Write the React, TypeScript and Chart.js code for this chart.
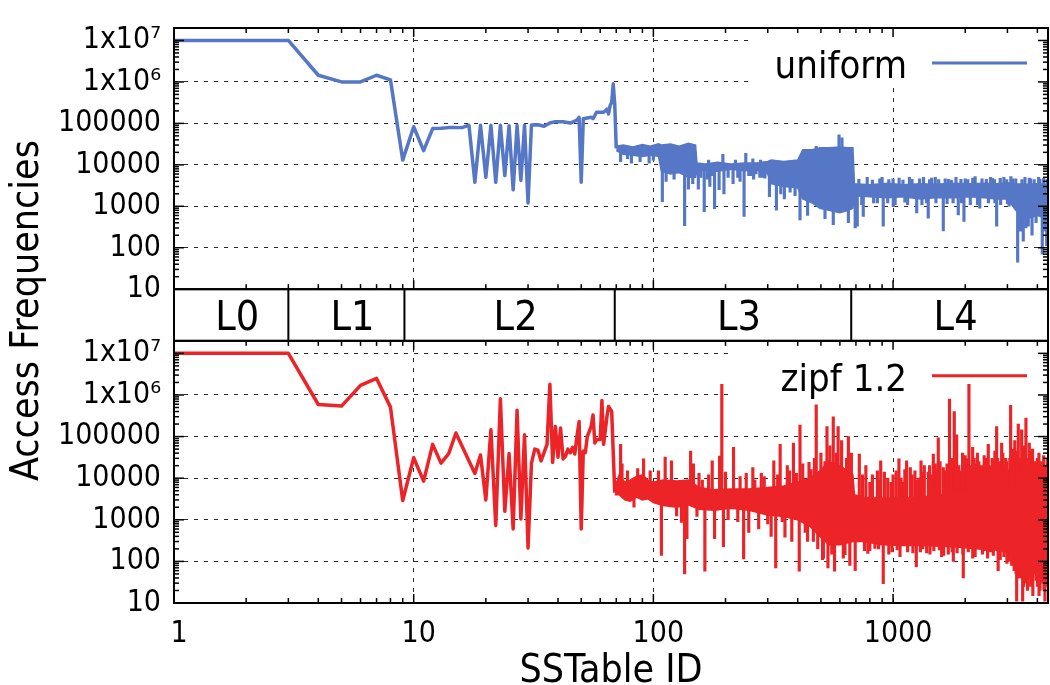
import React, { useEffect, useRef } from 'react';
import { Chart, registerables } from 'chart.js';

Chart.register(...registerables);

const FONT = "'DejaVu Sans Condensed', 'DejaVu Sans', sans-serif";
const BLUE = '#5577c5';
const RED = '#ec2327';
const GRID = 'rgba(20,20,20,0.9)';

// ---- axes / labels ----
const xTickValues = [1, 10, 100, 1000];
const xTickLabels = ['1', '10', '100', '1000'];
const yTickValues = [10, 100, 1000, 10000, 100000, 1000000, 10000000];
const yTickLabels = ['10', '100', '1000', '10000', '100000', '1x10⁶', '1x10⁷'];
const levelNames = ['L0', 'L1', 'L2', 'L3', 'L4'];
const levelBounds = [1, 3, 9.15, 69, 669, 4430];
const seriesNames = ['uniform', 'zipf 1.2'];
const xTitle = 'SSTable ID';
const yTitle = 'Access Frequencies';

// ---- uniform: individual SSTables (sparse part) ----
const uniformIds = [1, 2, 3, 4, 5, 6, 7, 8, 9, 10, 11, 12, 13, 14, 15, 16, 17, 18, 19, 20, 21, 22, 23, 24, 25, 26, 27, 28, 29, 30, 31, 33, 35, 37, 39, 42, 45, 48, 49, 50, 51, 55, 56, 58, 62, 64, 65, 66, 67, 68, 69, 70];
const uniformFreq = [1e7, 1e7, 1e7, 1.45e6, 1e6, 1e6, 1.45e6, 1.12e6, 1.3e4, 8.3e4, 2.2e4, 7.5e4, 7.6e4, 7.9e4, 7.9e4, 8e4, 9e4, 3.8e3, 9e4, 5e3, 9e4, 3.8e3, 9e4, 5.5e3, 8.8e4, 2.5e3, 9e4, 4.2e3, 9e4, 1.2e3, 9.2e4, 9.3e4, 8.5e4, 1.02e5, 1.1e5, 1.1e5, 1.02e5, 1.2e5, 1.4e5, 3.8e3, 1.3e5, 1.4e5, 1.3e5, 1.86e5, 1.86e5, 2.2e5, 1.7e5, 2.7e5, 3.2e5, 9e5, 2.9e5, 2.5e4];

// ---- uniform: dense part, range of values (high / low) ----
const uniformBandIds = [70, 75, 82, 90, 97, 105, 108, 118, 128, 140, 150, 152, 165, 185, 210, 240, 270, 300, 310, 350, 400, 420, 460, 495, 540, 600, 650, 680, 690, 800, 950, 1100, 1300, 1500, 1800, 2100, 2400, 2700, 3000, 3250, 3600, 4000, 4430];
const uniformBandHigh = [2.8e4, 3.0e4, 2.7e4, 3.1e4, 2.8e4, 3.2e4, 3.0e4, 3.2e4, 2.8e4, 3.3e4, 3.0e4, 1.1e4, 1.05e4, 1.15e4, 1.05e4, 1.1e4, 1.1e4, 1.2e4, 1.3e4, 1.2e4, 1.3e4, 2.3e4, 2.3e4, 2.6e4, 2.6e4, 2.7e4, 2.6e4, 2.6e4, 3.5e3, 3.3e3, 3.6e3, 3.3e3, 3.5e3, 3.4e3, 3.6e3, 3.5e3, 3.6e3, 3.5e3, 3.7e3, 3.5e3, 3.4e3, 3.5e3, 3.4e3];
const uniformBandLow = [2.2e4, 1.8e4, 1.7e4, 1.6e4, 1.7e4, 1.6e4, 7e3, 6e3, 6.5e3, 5e3, 5e3, 7.2e3, 7.5e3, 7e3, 7.8e3, 7.2e3, 7.5e3, 6e3, 3.5e3, 3e3, 2.8e3, 1.5e3, 1.2e3, 900, 800, 700, 800, 900, 1.8e3, 1.7e3, 1.6e3, 1.7e3, 1.5e3, 1.6e3, 1.6e3, 1.7e3, 1.6e3, 1.5e3, 1.5e3, 800, 500, 600, 500];

// ---- uniform: dense part, large spikes ----
const uniformSpikeIds = [73, 78, 81, 88, 96, 100, 109, 113, 122, 135, 140, 146, 154, 163, 172, 180, 188, 195, 197, 215, 225, 239, 243, 255, 268, 285, 305, 326, 340, 352, 372, 390, 409, 440, 478, 520, 563, 595, 612, 651, 695, 709, 751, 780, 830, 860, 880, 910, 1002, 1020, 1060, 1150, 1200, 1255, 1340, 1380, 1402, 1450, 1550, 1620, 1700, 1780, 1871, 1976, 2000, 2100, 2200, 2300, 2450, 2500, 2600, 2705, 2900, 3050, 3150, 3310, 3400, 3493, 3580, 3665, 3700, 3800, 3950, 4100, 4193, 4300, 4374];
const uniformSpikeTips = [1.2e4, 1.4e4, 1.1e4, 1.2e4, 1.1e4, 1.3e4, 1.3e3, 4e3, 4.5e3, 340, 2.6e3, 3.5e3, 2.6e3, 740, 3e3, 880, 2.5e3, 1.8e4, 2e3, 3.5e3, 5e3, 570, 1.9e4, 5.5e3, 6e3, 5e3, 1.7e3, 810, 2e3, 1.5e3, 2.2e3, 1.8e3, 470, 600, 2.8e4, 500, 360, 5.3e4, 4.5e4, 400, 300, 330, 570, 5e3, 1.2e3, 1.2e3, 4.6e3, 330, 980, 1.1e3, 4.8e3, 1.1e3, 4.5e3, 690, 5e3, 1.2e3, 520, 4.8e3, 4.4e3, 255, 4.5e3, 1.2e3, 620, 430, 4.6e3, 1.1e3, 5.2e3, 900, 4.5e3, 1.2e3, 4.7e3, 330, 5e3, 1e3, 4.6e3, 45, 250, 145, 300, 330, 4.8e3, 200, 400, 4.5e3, 70, 250, 110];

// ---- uniform: dense part, small fringe spikes ----
const uniformFringeIds = [158, 168, 170, 176, 205, 220, 230, 250, 260, 262, 278, 280, 292, 720, 740, 820, 900, 950, 960, 1000, 1100, 1120, 1170, 1290, 1320, 1420, 1500, 1510, 1650, 1680, 1750, 1830, 1920, 1930, 2050, 2150, 2250, 2350, 2550, 2650, 2660, 2800, 2810, 2980, 3000, 3100, 3250, 3450, 3550, 3750, 3880, 4050, 4250, 4400];
const uniformFringeTips = [5e3, 4.5e3, 1.3e4, 5.5e3, 5e3, 1.3e4, 4e3, 5.5e3, 1.4e4, 4.5e3, 5e3, 1.3e4, 4.8e3, 4.5e3, 1.1e3, 4.3e3, 5e3, 1.2e3, 4.4e3, 4.6e3, 4.3e3, 1.25e3, 5e3, 4.6e3, 1.1e3, 4.4e3, 5e3, 1.2e3, 4.6e3, 1.15e3, 4.3e3, 5e3, 4.5e3, 1.2e3, 4.4e3, 4.8e3, 1.1e3, 4.6e3, 5e3, 4.4e3, 1.2e3, 4.7e3, 1.1e3, 4.4e3, 1.15e3, 5.2e3, 4.6e3, 4.4e3, 5e3, 4.6e3, 4.4e3, 5e3, 4.7e3, 4.5e3];

// ---- zipf 1.2: individual SSTables (sparse part) ----
const zipfIds = [1, 2, 3, 4, 5, 6, 7, 8, 9, 10, 11, 12, 13, 14, 15, 18, 19, 20, 21, 22, 23, 24, 25, 26, 27, 28, 29, 30, 31, 32, 33, 34, 36, 37, 38, 39, 40, 41, 42, 43, 44, 45, 46, 47, 48, 49, 50, 51, 52, 53, 55, 56, 57, 58, 60, 61, 62, 64, 65, 67, 69];
const zipfFreq = [1e7, 1e7, 1e7, 5.9e5, 5.4e5, 1.7e6, 2.5e6, 5.1e5, 2.9e3, 3.1e4, 8.5e3, 6.5e4, 2.3e4, 3.9e4, 1.22e5, 1.3e4, 3.6e4, 3e3, 1.46e5, 730, 8.1e5, 1.6e3, 3.9e4, 600, 4.3e5, 1.05e3, 1.1e5, 210, 2.3e4, 5e4, 4.7e4, 2.6e4, 6.5e4, 1.8e6, 2.4e4, 1.75e5, 3.2e4, 1.6e5, 2.9e4, 3.4e4, 5e4, 4.1e4, 5.5e4, 3.8e4, 1e5, 2.3e5, 600, 4.5e4, 4.1e4, 1e5, 1.75e5, 3.3e5, 7e4, 8.5e4, 8.5e4, 7.4e5, 6.5e4, 3e5, 5.3e5, 4e5, 4.5e3];

// ---- zipf 1.2: dense part, range of values ----
const zipfBandIds = [69, 72, 76, 80, 85, 90, 95, 100, 110, 125, 140, 155, 180, 210, 250, 300, 350, 400, 450, 495, 540, 600, 680, 690, 750, 900, 1100, 1300, 1600, 1900, 2200, 2600, 3000, 3300, 3700, 4100, 4430];
const zipfBandHigh = [6e3, 1.2e4, 8e3, 9e3, 1.1e4, 1.2e4, 9e3, 8e3, 9e3, 8.5e3, 9e3, 6e3, 5.3e3, 5.5e3, 5.5e3, 6e3, 6.5e3, 8e3, 1e4, 1.5e4, 2.5e4, 2e4, 1.2e4, 4e3, 3.5e3, 3.3e3, 3.3e3, 3.5e3, 4e3, 5e3, 6e3, 6.5e3, 7e3, 7e3, 6.5e3, 6e3, 5.5e3];
const zipfBandLow = [4e3, 4e3, 3e3, 2.8e3, 3.5e3, 3e3, 3.2e3, 2.6e3, 2.2e3, 2e3, 2.3e3, 1.8e3, 1.7e3, 1.9e3, 1.7e3, 1.3e3, 1.2e3, 1e3, 700, 400, 250, 250, 300, 300, 300, 250, 240, 240, 230, 220, 200, 190, 170, 100, 70, 80, 100];

// ---- zipf 1.2: dense part, large spikes ----
const zipfSpikeIds = [73, 74, 78, 83, 86, 91, 97, 105, 108, 112, 119, 125, 131, 135, 138, 143, 147, 152, 155, 164, 170, 176, 180, 189, 193, 196, 205, 216, 225, 238, 244, 265, 282, 300, 318, 324, 338, 354, 370, 384, 406, 409, 430, 446, 465, 478, 508, 512, 530, 535, 563, 570, 590, 630, 651, 695, 723, 745, 760, 785, 800, 840, 860, 888, 910, 950, 960, 1000, 1058, 1069, 1100, 1139, 1150, 1180, 1234, 1250, 1280, 1308, 1330, 1350, 1381, 1403, 1440, 1472, 1480, 1500, 1544, 1595, 1650, 1700, 1720, 1760, 1784, 1800, 1842, 1850, 1880, 1920, 1963, 2000, 2028, 2073, 2110, 2148, 2150, 2196, 2250, 2300, 2310, 2378, 2420, 2450, 2496, 2550, 2560, 2618, 2660, 2705, 2744, 2780, 2838, 2900, 2950, 3020, 3050, 3094, 3150, 3172, 3200, 3220, 3279, 3330, 3350, 3380, 3440, 3473, 3530, 3550, 3584, 3630, 3665, 3700, 3750, 3786, 3870, 3908, 3950, 3980, 4034, 4101, 4180, 4200, 4233, 4302, 4370, 4380, 4429];
const zipfSpikeTips = [6.5e4, 2.2e4, 1.5e4, 2e3, 1.7e4, 2.9e4, 1.5e4, 1.5e4, 140, 3.2e4, 2.6e4, 1.24e3, 870, 50, 350, 4.5e4, 2.2e4, 1.2e3, 1.3e4, 58, 1.2e4, 2.6e4, 350, 3.4e4, 1.8e6, 225, 1e3, 5.5e4, 900, 115, 1.3e4, 9e3, 1.3e4, 800, 2.6e4, 70, 6.5e4, 380, 1.5e4, 7e4, 58, 1.9e5, 500, 2.4e4, 300, 5.8e5, 110, 120, 1.75e5, 70, 3e5, 58, 1.75e5, 145, 1e5, 60, 3.8e4, 1.2e4, 180, 155, 8e3, 205, 1.5e4, 2.6e4, 29, 1e4, 150, 1.2e4, 2.9e4, 130, 8e3, 2.6e4, 170, 1.8e4, 1.5e4, 75, 1e4, 2.6e4, 200, 2e4, 160, 1.4e4, 9e3, 3.8e4, 180, 2.2e4, 9.3e4, 130, 1.5e4, 150, 8e5, 3e4, 100, 4e5, 1.1e5, 160, 2e4, 1.2e4, 40, 3.5e4, 2.9e4, 1.8e6, 2e4, 5.5e4, 120, 2.2e4, 4e4, 1.5e4, 200, 1.3e4, 180, 3e4, 6.5e4, 170, 1.8e4, 2.6e4, 4.5e4, 1.75e5, 60, 2.5e4, 7e4, 130, 3e4, 1.6e4, 100, 5.6e5, 2.5e4, 5e4, 60, 8e4, 11, 2e5, 40, 3e4, 1.46e5, 11, 6e4, 30, 2.8e5, 2.5e4, 49, 7e4, 25, 4.5e4, 50, 2.2e4, 35, 1.2e4, 1.5e4, 20, 2e4, 30, 1.1e4, 11, 1.5e4, 40, 8.9e3];

// ---- zipf 1.2: dense part, fringe spikes ----
const zipfFringeIds = [160, 200, 230, 250, 260, 275, 290, 310, 330, 345, 362, 378, 395, 420, 440, 455, 470, 485, 500, 520, 545, 555, 580, 610, 620, 640, 660, 670, 770, 800, 820, 870, 875, 920, 980, 990, 1030, 1040, 1080, 1120, 1200, 1210, 1260, 1300, 1320, 1420, 1425, 1460, 1520, 1560, 1570, 1620, 1625, 1680, 1740, 1765, 1820, 1900, 1950, 1955, 2050, 2060, 2180, 2200, 2220, 2280, 2340, 2360, 2400, 2480, 2520, 2590, 2620, 2640, 2680, 2730, 2800, 2810, 2870, 2920, 2980, 2985, 3070, 3120, 3125, 3250, 3260, 3300, 3420, 3425, 3500, 3505, 3600, 3640, 3680, 3720, 3730, 3820, 3830, 3890, 4000, 4005, 4060, 4065, 4140, 4150, 4250, 4260, 4330, 4340, 4400, 4410];
const zipfFringeTips = [9e3, 1.4e4, 1.1e4, 500, 1.8e4, 600, 1.1e4, 400, 1.2e4, 900, 2e4, 300, 1.3e4, 2.2e4, 300, 1.6e4, 3e4, 200, 4e4, 2.5e4, 6e4, 150, 4e4, 8e4, 120, 3e4, 80, 4e4, 2e4, 180, 1.2e4, 200, 9e3, 1.4e4, 8e3, 170, 1.5e4, 190, 1e4, 1.6e4, 1.2e4, 160, 9e3, 170, 1.4e4, 2e4, 150, 1.2e4, 1.6e4, 190, 2.5e4, 1.8e4, 140, 2.2e4, 1.5e4, 170, 2.5e4, 1.5e4, 4e4, 150, 1.8e4, 170, 3e4, 130, 1.4e4, 2.5e4, 2e4, 150, 3.5e4, 120, 2e4, 3e4, 140, 1.5e4, 2e4, 3e4, 110, 1.8e4, 4e4, 2e4, 2.5e4, 90, 3e4, 1.8e4, 80, 2.5e4, 50, 4.5e4, 2e4, 40, 3.5e4, 25, 2e4, 20, 3e4, 45, 1.8e4, 5e4, 15, 2.5e4, 3e4, 25, 4e4, 15, 2.5e4, 40, 3.5e4, 20, 2e4, 25, 3e4, 30];

function points(ids: number[], vals: number[]) {
  return ids.map((x, i) => ({ x, y: vals[i] }));
}

function needles(ids: number[], tips: number[], bandIds: number[], high: number[], low: number[]) {
  return ids.map((x, i) => {
    let k = 0;
    for (let j = 0; j < bandIds.length; j++) if (bandIds[j] <= x) k = j;
    return { x, y: [Math.sqrt(high[k] * low[k]), tips[i]] };
  });
}

function yAxis(weight: number) {
  return {
    type: 'logarithmic',
    position: 'left',
    stack: 'panels',
    stackWeight: weight,
    min: 10,
    max: 2e7,
    offset: false,
    afterFit: (s: any) => { s.width = 174; },
    afterBuildTicks: (s: any) => { s.ticks = yTickValues.map((v) => ({ value: v })); },
    ticks: {
      autoSkip: false,
      padding: 13,
      color: '#000',
      font: { family: FONT, size: 30, lineHeight: 1 },
      callback: (v: any) => { const i = yTickValues.indexOf(Number(v)); return i >= 0 ? yTickLabels[i] : ''; },
    },
    grid: {
      offset: false,
      color: (c: any) => (c.tick && c.tick.value <= 10 ? 'rgba(0,0,0,0)' : GRID),
      lineWidth: 1,
      drawTicks: false,
    },
    border: { display: false, dash: [4, 6] },
  };
}

const decorPlugin = {
  id: 'decor',
  beforeDatasetsDraw(chart: any) {
    const { ctx } = chart;
    const x = chart.scales.x, yt = chart.scales.yTop, yb = chart.scales.yBot;
    ctx.save();
    ctx.fillStyle = '#ffffff';
    ctx.fillRect(x.left - 1, yt.bottom, x.right - x.left + 2, yb.top - yt.bottom);
    ctx.fillRect(x.right - 296, yt.top, 296, 59);
    ctx.fillRect(x.right - 314, yb.top, 314, 58);
    ctx.restore();
  },
  afterDraw(chart: any) {
    const { ctx } = chart;
    const x = chart.scales.x, yt = chart.scales.yTop, yb = chart.scales.yBot;
    ctx.save();
    ctx.strokeStyle = '#000';
    const line = (x1: number, y1: number, x2: number, y2: number) => {
      ctx.beginPath(); ctx.moveTo(x1, y1); ctx.lineTo(x2, y2); ctx.stroke();
    };
    // tick marks (inward, mirrored)
    ctx.lineWidth = 1.5;
    for (let d = 0; d < 4; d++) {
      for (let m = 1; m <= 9; m++) {
        const v = m * Math.pow(10, d);
        if (v <= 1 || v >= levelBounds[levelBounds.length - 1]) continue;
        const px = x.getPixelForValue(v);
        const len = m === 1 ? 9 : 5;
        for (const p of [yt, yb]) {
          line(px, p.top, px, p.top + len);
          line(px, p.bottom, px, p.bottom - len);
        }
      }
    }
    for (const p of [yt, yb]) {
      for (let d = 1; d <= 7; d++) {
        for (let m = 1; m <= 9; m++) {
          const v = m * Math.pow(10, d);
          if (v <= 10 || v >= 2e7) continue;
          const py = p.getPixelForValue(v);
          const len = m === 1 ? 10 : 5;
          line(x.left, py, x.left + len, py);
          line(x.right, py, x.right - len, py);
        }
      }
    }
    // frames
    ctx.lineWidth = 2;
    for (const p of [yt, yb]) ctx.strokeRect(x.left, p.top, x.right - x.left, p.bottom - p.top);
    ctx.strokeRect(x.left, yt.bottom, x.right - x.left, yb.top - yt.bottom);
    for (let i = 1; i < levelBounds.length - 1; i++) {
      const px = x.getPixelForValue(levelBounds[i]);
      line(px, yt.bottom, px, yb.top);
    }
    // level labels
    ctx.fillStyle = '#000';
    ctx.font = `41px ${FONT}`;
    ctx.textAlign = 'center';
    ctx.textBaseline = 'alphabetic';
    for (let i = 0; i < levelNames.length; i++) {
      const a = x.getPixelForValue(levelBounds[i]);
      const b = x.getPixelForValue(levelBounds[i + 1]);
      ctx.fillText(levelNames[i], (a + b) / 2 + 6, yb.top - 11);
    }
    // legends
    ctx.font = `38px ${FONT}`;
    ctx.textAlign = 'right';
    const legend = [[yt, BLUE, seriesNames[0]], [yb, RED, seriesNames[1]]];
    for (const [p, col, name] of legend as any) {
      ctx.fillStyle = '#000';
      ctx.fillText(name, x.right - 141, p.top + 50);
      ctx.strokeStyle = col;
      ctx.lineWidth = 3;
      line(x.right - 116, p.top + 35, x.right - 21, p.top + 35);
    }
    // y title
    ctx.fillStyle = '#000';
    ctx.font = `39px ${FONT}`;
    ctx.textAlign = 'center';
    ctx.textBaseline = 'middle';
    ctx.translate(28, (yt.top + yb.bottom) / 2 - 5);
    ctx.rotate(-Math.PI / 2);
    ctx.fillText(yTitle, 0, 0);
    ctx.restore();
  },
};

export default function App() {
  const ref = useRef<HTMLCanvasElement>(null);
  useEffect(() => {
    const common = { pointRadius: 0, pointHitRadius: 0, tension: 0 };
    const uniformNeedles = needles(uniformSpikeIds.concat(uniformFringeIds), uniformSpikeTips.concat(uniformFringeTips), uniformBandIds, uniformBandHigh, uniformBandLow);
    const zipfNeedles = needles(zipfSpikeIds.concat(zipfFringeIds), zipfSpikeTips.concat(zipfFringeTips), zipfBandIds, zipfBandHigh, zipfBandLow);
    const chart = new Chart(ref.current as HTMLCanvasElement, {
      type: 'line',
      data: {
        datasets: [
          { ...common, label: 'uniform high', yAxisID: 'yTop', data: points(uniformBandIds, uniformBandHigh), borderColor: BLUE, backgroundColor: BLUE, borderWidth: 1.5, fill: '+1' },
          { ...common, label: 'uniform low', yAxisID: 'yTop', data: points(uniformBandIds, uniformBandLow), borderColor: BLUE, borderWidth: 1.5, fill: false },
          { type: 'bar', label: 'uniform spikes', yAxisID: 'yTop', grouped: false, barThickness: 2.5, data: uniformNeedles, backgroundColor: BLUE, borderWidth: 0 },
          { ...common, label: seriesNames[0], yAxisID: 'yTop', data: points(uniformIds, uniformFreq), borderColor: BLUE, borderWidth: 3.5, borderJoinStyle: 'round', fill: false },
          { ...common, label: 'zipf high', yAxisID: 'yBot', data: points(zipfBandIds, zipfBandHigh), borderColor: RED, backgroundColor: RED, borderWidth: 1.5, fill: '+1' },
          { ...common, label: 'zipf low', yAxisID: 'yBot', data: points(zipfBandIds, zipfBandLow), borderColor: RED, borderWidth: 1.5, fill: false },
          { type: 'bar', label: 'zipf spikes', yAxisID: 'yBot', grouped: false, barThickness: 2.5, data: zipfNeedles, backgroundColor: RED, borderWidth: 0 },
          { ...common, label: seriesNames[1], yAxisID: 'yBot', data: points(zipfIds, zipfFreq), borderColor: RED, borderWidth: 3.5, borderJoinStyle: 'round', fill: false },
        ] as any,
      },
      options: {
        responsive: false,
        animation: false,
        devicePixelRatio: 1,
        events: [],
        layout: { padding: { top: 13, right: 2, left: 0, bottom: 0 } },
        plugins: { legend: { display: false }, tooltip: { enabled: false } },
        scales: {
          x: {
            type: 'logarithmic',
            min: 1,
            max: levelBounds[levelBounds.length - 1],
            offset: false,
            afterFit: (s: any) => { s.height = 82; },
            afterBuildTicks: (s: any) => { s.ticks = xTickValues.map((v) => ({ value: v })); },
            ticks: {
              autoSkip: false,
              maxRotation: 0,
              padding: 16,
              labelOffset: 5,
              color: '#000',
              font: { family: FONT, size: 30, lineHeight: 1 },
              callback: (v: any) => { const i = xTickValues.indexOf(Number(v)); return i >= 0 ? xTickLabels[i] : ''; },
            },
            grid: {
              offset: false,
              color: (c: any) => (c.tick && c.tick.value <= 1 ? 'rgba(0,0,0,0)' : GRID),
              lineWidth: 1,
              drawTicks: false,
            },
            border: { display: false, dash: [4, 6] },
            title: { display: true, text: xTitle, color: '#000', font: { family: FONT, size: 39, lineHeight: 0.69 }, padding: { top: 0, bottom: 0 } },
          },
          yBot: yAxis(269),
          yBand: {
            type: 'linear',
            position: 'left',
            stack: 'panels',
            stackWeight: 53,
            min: 0,
            max: 1,
            afterFit: (s: any) => { s.width = 174; },
            ticks: { display: false },
            grid: { display: false },
            border: { display: false },
          },
          yTop: yAxis(268),
        } as any,
      },
      plugins: [decorPlugin],
    });
    return () => chart.destroy();
  }, []);
  return (
    <div style={{ position: 'absolute', left: 0, top: 0, width: 1050, height: 685, background: '#fff' }}>
      <canvas ref={ref} width={1050} height={685} style={{ display: 'block' }} />
    </div>
  );
}
